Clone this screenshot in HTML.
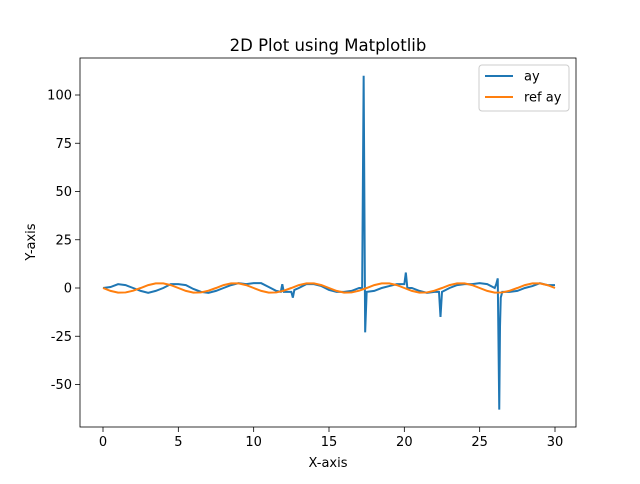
<!DOCTYPE html>
<html><head><meta charset="utf-8"><style>
body{margin:0;background:#fff;font-family:"DejaVu Sans","Liberation Sans",sans-serif}
</style></head><body>
<svg id="c" width="640" height="480" xmlns="http://www.w3.org/2000/svg" font-family="DejaVu Sans, Liberation Sans, sans-serif"></svg>
<script>
const xTicks=[0,5,10,15,20,25,30];
const yTicks=[-50,-25,0,25,50,75,100];
const refX=[];for(let i=0;i<=60;i++)refX.push(i*0.5);
const refY=[0,-1.5,-2.4,-2.3,-1.4,0,1.5,2.4,2.4,1.5,0,-1.5,-2.4,-2.3,-1.4,0,1.5,2.4,2.4,1.5,0,-1.5,-2.4,-2.3,-1.4,0,1.5,2.4,2.4,1.5,0,-1.5,-2.4,-2.3,-1.4,0,1.5,2.4,2.4,1.5,0,-1.5,-2.4,-2.3,-1.4,0,1.5,2.4,2.4,1.5,0,-1.5,-2.4,-2.3,-1.4,0,1.5,2.4,2.4,1.5,0];
const ayX=[0,0.5,1,1.5,2,2.5,3,3.5,4,4.5,5,5.5,6,6.5,7,7.5,8,8.5,9,9.5,10,10.5,11,11.5,11.8,11.9,12,12.5,12.6,12.7,13,13.5,14,14.5,15,15.5,16,16.5,17,17.2,17.3,17.4,17.5,18,18.5,19,19.5,20,20.1,20.2,20.3,20.5,21,21.5,22,22.3,22.4,22.5,23,23.5,24,24.5,25,25.5,26,26.1,26.2,26.3,26.35,26.4,26.5,27,27.5,28,28.5,29,29.5,30];
const ayY=[0,0.5,2,1.5,0,-1.5,-2.5,-1.5,0,2,2,1.5,-0.5,-2,-2.5,-1.5,0,1.5,2.5,2,2.5,2.5,0.5,-1.5,-2,2,-2,-2,-5,-1,0,2,2,1,-1,-2,-2,-1.5,0,0,110,-23,-2,-1.5,0,1,2,2,8,0,0,0,-1.5,-2.5,-2,-2,-15,-2,0,1.5,2,2,2.5,2,0,2,5,-63,-20,-5,-2,-2,-1.5,0,1,2.5,1.5,1.5];
const X0=80,X1=576,Y0=58,Y1=427;
const xs=v=>103+(v-0)*(555-103)/30;
const ys=v=>288-v*(288-95)/100;
const svg=document.getElementById('c');const NS='http://www.w3.org/2000/svg';
function mk(t,a,txt){const e=document.createElementNS(NS,t);for(const k in a)e.setAttribute(k,a[k]);if(txt!=null)e.textContent=txt;svg.appendChild(e);return e;}
let e=mk('text',{x:328,y:51,'text-anchor':'middle','font-size':16.5},'2D Plot using Matplotlib');


xTicks.forEach(t=>{const x=xs(t);mk('line',{x1:x,x2:x,y1:Y1,y2:Y1+5,stroke:'#000','stroke-width':0.8});
 e=mk('text',{x:x,y:Y1+19,'text-anchor':'middle','font-size':13},t);
 
 });
yTicks.forEach(t=>{const y=ys(t);mk('line',{x1:X0-5,x2:X0,y1:y,y2:y,stroke:'#000','stroke-width':0.8});
 e=mk('text',{x:X0-8,y:y+4.5,'text-anchor':'end','font-size':13},t);
 
 });
e=mk('text',{x:328,y:467,'text-anchor':'middle','font-size':13},'X-axis');


e=mk('text',{x:35,y:242,'text-anchor':'middle','font-size':13,transform:'rotate(-90 35 242)'},'Y-axis');


e=mk('polyline',{points:ayX.map((x,i)=>xs(x)+','+ys(ayY[i])).join(' '),fill:'none',stroke:'#1f77b4','stroke-width':2});


e=mk('polyline',{points:refX.map((x,i)=>xs(x)+','+ys(refY[i])).join(' '),fill:'none',stroke:'#ff7f0e','stroke-width':2});


e=mk('rect',{x:X0,y:Y0,width:X1-X0,height:Y1-Y0,fill:'none',stroke:'#000','stroke-width':0.8});


e=mk('rect',{x:479,y:65,width:90,height:46,fill:'#fff',stroke:'#ccc',rx:3});


mk('line',{x1:485,x2:513,y1:76,y2:76,stroke:'#1f77b4','stroke-width':2});
e=mk('text',{x:524,y:80.5,'font-size':13},'ay');


mk('line',{x1:485,x2:513,y1:97,y2:97,stroke:'#ff7f0e','stroke-width':2});
e=mk('text',{x:524,y:101.5,'font-size':13},'ref ay');


</script>
</body></html>
